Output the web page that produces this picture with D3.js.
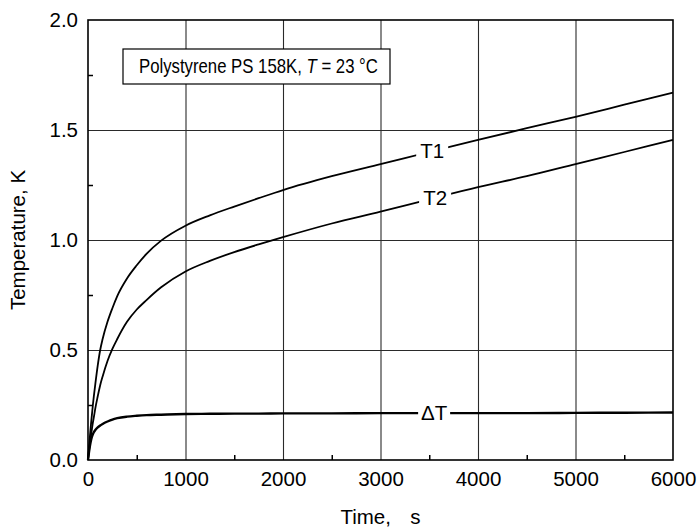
<!DOCTYPE html>
<html>
<head>
<meta charset="utf-8">
<script src="https://cdn.jsdelivr.net/npm/d3@7"></script>
<style>
  html, body { margin: 0; padding: 0; background: #fff; }
  svg { display: block; font-family: "Liberation Sans", Arial, sans-serif; }
</style>
</head>
<body>
<svg id="chart" width="700" height="529"></svg>
<script>
// ---- data ----
const timeSeconds = [0, 10, 20, 30, 40, 50, 60, 75, 100, 125, 150, 200, 250, 300, 400, 500, 600, 750, 1000, 1250, 1500, 1750, 2000, 2500, 3000, 3500, 4000, 4500, 5000, 5500, 6000];
const t1Values = [0, 0.06, 0.11, 0.16, 0.205, 0.25, 0.29, 0.345, 0.43, 0.50, 0.55, 0.628, 0.69, 0.745, 0.825, 0.885, 0.937, 0.997, 1.065, 1.112, 1.152, 1.19, 1.227, 1.29, 1.345, 1.40, 1.455, 1.508, 1.56, 1.615, 1.67];
const t2Values = [0, 0.04, 0.075, 0.11, 0.14, 0.17, 0.195, 0.235, 0.29, 0.34, 0.38, 0.45, 0.505, 0.55, 0.628, 0.684, 0.727, 0.785, 0.857, 0.905, 0.945, 0.98, 1.013, 1.075, 1.129, 1.185, 1.24, 1.29, 1.345, 1.40, 1.455];
const dTValues = [0, 0.035, 0.065, 0.088, 0.105, 0.117, 0.126, 0.136, 0.148, 0.157, 0.164, 0.175, 0.184, 0.19, 0.197, 0.201, 0.204, 0.206, 0.209, 0.210, 0.211, 0.211, 0.212, 0.212, 0.213, 0.213, 0.213, 0.213, 0.214, 0.215, 0.216];
const seriesNames = ["T1", "T2", "\u0394T"];
const labelTimes = [3530, 3560, 3550];
const xTicks = [0, 1000, 2000, 3000, 4000, 5000, 6000];
const xMinorTicks = [500, 1500, 2500, 3500, 4500, 5500];
const yTicks = [0, 0.5, 1.0, 1.5, 2.0];
const yMinorTicks = [0.25, 0.75, 1.25, 1.75];
const xTitle = "Time,  s";
const yTitle = "Temperature, K";

// ---- layout ----
const svg = d3.select("#chart");
const m = { left: 88, right: 673, top: 20, bottom: 460 };
const x = d3.scaleLinear().domain([0, 6000]).range([m.left, m.right]);
const y = d3.scaleLinear().domain([0, 2]).range([m.bottom, m.top]);
const W = m.right - m.left, H = m.bottom - m.top;
const FS = 20.5;

// grid
svg.append("g")
  .attr("transform", `translate(${m.left},0)`)
  .call(d3.axisLeft(y).tickValues([0.5, 1.0, 1.5]).tickSize(-W).tickFormat(""))
  .call(g => g.select(".domain").remove())
  .call(g => g.selectAll("line").attr("stroke", "#2a2a2a").attr("stroke-width", 1.1));
svg.append("g")
  .attr("transform", `translate(0,${m.bottom})`)
  .call(d3.axisBottom(x).tickValues([1000, 2000, 3000, 4000, 5000]).tickSize(-H).tickFormat(""))
  .call(g => g.select(".domain").remove())
  .call(g => g.selectAll("line").attr("stroke", "#2a2a2a").attr("stroke-width", 1.1));

// legend / title box
const boxG = svg.append("g");
boxG.append("rect").attr("x", 123).attr("y", 49).attr("width", 267).attr("height", 35)
  .attr("fill", "#fff").attr("stroke", "#000").attr("stroke-width", 1.2);
const boxTextG = boxG.append("g");
const boxText = boxTextG.append("text").attr("x", 0).attr("y", 0)
  .attr("font-size", 20).attr("fill", "#000");
boxText.append("tspan").text("Polystyrene PS 158K, ");
boxText.append("tspan").attr("font-style", "italic").text("T");
boxText.append("tspan").text(" = 23 \u00B0C");
const bw = boxText.node().getComputedTextLength();
boxTextG.attr("transform", `translate(139,73) scale(${239 / bw},1)`);

// curves
const seriesValues = [t1Values, t2Values, dTValues];
const line = d3.line().x(d => x(d[0])).y(d => y(d[1])).curve(d3.curveMonotoneX);
seriesValues.forEach((vals, i) => {
  const pts = timeSeconds.map((t, k) => [t, vals[k]]);
  svg.append("path").attr("d", line(pts)).attr("fill", "none")
    .attr("stroke", "#000").attr("stroke-width", i === 2 ? 2.4 : 1.8)
    .attr("stroke-linejoin", "round");
});

// curve labels with gaps
seriesNames.forEach((name, i) => {
  const vals = seriesValues[i];
  const lt = labelTimes[i];
  const vi = d3.scaleLinear().domain(timeSeconds).range(vals)(lt);
  const cx = x(lt), cy = y(vi);
  const g = svg.append("g");
  g.append("rect").attr("x", cx - 16).attr("y", cy - 13).attr("width", 32).attr("height", 26).attr("fill", "#fff");
  g.append("text").attr("x", cx).attr("y", cy + 7).attr("text-anchor", "middle")
    .attr("font-size", FS).text(name);
});

// frame
svg.append("rect").attr("x", m.left).attr("y", m.top).attr("width", W).attr("height", H)
  .attr("fill", "none").attr("stroke", "#000").attr("stroke-width", 1.6);

// axes
const yAxis = svg.append("g").attr("transform", `translate(${m.left},0)`)
  .call(d3.axisLeft(y).tickValues(yTicks).tickFormat(d3.format(".1f")).tickSize(0).tickPadding(10));
yAxis.select(".domain").remove();
yAxis.selectAll("text").attr("font-size", FS).attr("fill", "#000").attr("font-family", "Liberation Sans, Arial, sans-serif");
svg.append("g").attr("transform", `translate(${m.left},0)`)
  .call(d3.axisLeft(y).tickValues(yMinorTicks).tickSize(-5).tickFormat(""))
  .call(g => g.select(".domain").remove())
  .call(g => g.selectAll("line").attr("stroke", "#000").attr("stroke-width", 1.5));

const xAxis = svg.append("g").attr("transform", `translate(0,${m.bottom})`)
  .call(d3.axisBottom(x).tickValues(xTicks).tickFormat(d3.format("d")).tickSize(0).tickPadding(11));
xAxis.select(".domain").remove();
xAxis.selectAll("text").attr("font-size", FS).attr("fill", "#000").attr("font-family", "Liberation Sans, Arial, sans-serif");
svg.append("g").attr("transform", `translate(0,${m.bottom})`)
  .call(d3.axisBottom(x).tickValues(xMinorTicks).tickSize(-5).tickFormat(""))
  .call(g => g.select(".domain").remove())
  .call(g => g.selectAll("line").attr("stroke", "#000").attr("stroke-width", 1.5));

// axis titles
svg.append("text").attr("x", (m.left + m.right) / 2).attr("y", 524).attr("text-anchor", "middle")
  .attr("font-size", FS).attr("word-spacing", 4).style("white-space", "pre").text(xTitle);
svg.append("text").attr("transform", `translate(25,${(m.top + m.bottom) / 2}) rotate(-90)`)
  .attr("text-anchor", "middle").attr("font-size", FS).text(yTitle);
</script>
</body>
</html>
